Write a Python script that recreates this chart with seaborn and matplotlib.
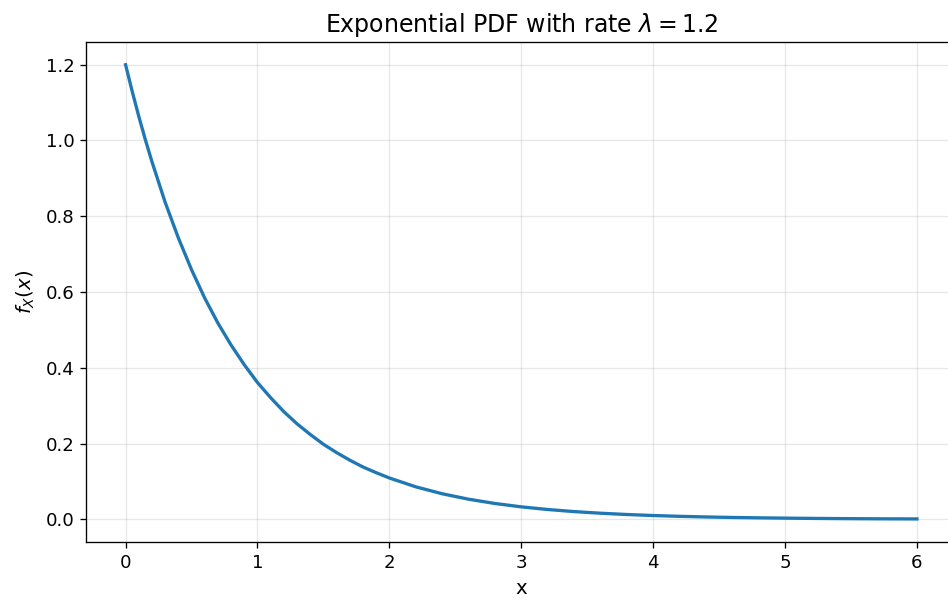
import matplotlib
matplotlib.use("Agg")
import matplotlib.pyplot as plt
import seaborn as sns
import pandas as pd

# values (denser where it bends most)
x_vals = [0.0, 0.05, 0.1, 0.15, 0.2, 0.3, 0.4, 0.5, 0.6, 0.7, 0.8, 0.9,
          1.0, 1.1, 1.2, 1.3, 1.4, 1.5, 1.6, 1.7, 1.8, 1.9,
          2.0, 2.2, 2.4, 2.6, 2.8, 3.0, 3.2, 3.4, 3.6, 3.8,
          4.0, 4.2, 4.4, 4.6, 4.8, 5.0, 5.2, 5.4, 5.6, 5.8, 6.0]
pdf_vals = [1.2, 1.130, 1.064, 1.002, 0.944, 0.837, 0.743, 0.659, 0.584, 0.518, 0.460, 0.408,
            0.361, 0.321, 0.284, 0.252, 0.224, 0.198, 0.176, 0.156, 0.138, 0.123,
            0.109, 0.0857, 0.0674, 0.0530, 0.0417, 0.0328, 0.0258, 0.0203, 0.0160, 0.0126,
            0.0099, 0.0078, 0.0061, 0.0048, 0.0038, 0.0030, 0.0023, 0.0018, 0.0014, 0.0011, 0.0009]

df = pd.DataFrame({"x": x_vals, "pdf": pdf_vals})

fig = plt.figure(figsize=(8, 600 / 118.5), dpi=118.5)
ax = fig.add_axes([86 / 948, 58 / 600, 870.5 / 948, 500 / 600])

sns.lineplot(data=df, x="x", y="pdf", ax=ax, color="#1f77b4", linewidth=2)
ax.set_xlim(-0.3, 6.3)
ax.set_ylim(-0.06, 1.26)
ax.grid(alpha=0.3)
ax.tick_params(labelsize=11)
ax.set_xlabel("x", fontsize=12, labelpad=4.5)
ax.set_ylabel("$f_X(x)$", fontsize=12, labelpad=5)
ax.set_title(r"Exponential PDF with rate $\lambda = 1.2$", fontsize=14.4)

fig.savefig("out.png", dpi=118.5)
